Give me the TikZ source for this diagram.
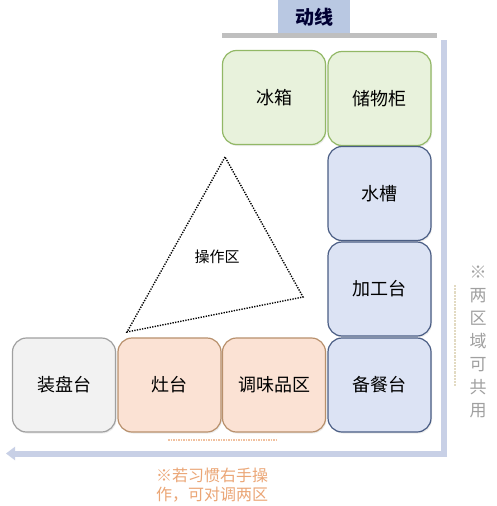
\documentclass[tikz,border=0pt]{standalone}
\usepackage{fontspec}
\newfontfamily\cjk{Noto Sans CJK SC}
\usetikzlibrary{arrows.meta,shadows}
\definecolor{grnfill}{HTML}{E8F2DC}
\definecolor{grnline}{HTML}{92B866}
\definecolor{blufill}{HTML}{DCE3F4}
\definecolor{bluline}{HTML}{4A5D84}
\definecolor{orgfill}{HTML}{FBE2D4}
\definecolor{orgline}{HTML}{B8906C}
\definecolor{gryfill}{HTML}{F2F2F2}
\definecolor{gryline}{HTML}{A0A0A0}
\definecolor{barcol}{HTML}{C8D0E6}
\definecolor{titlecol}{HTML}{B9C8E2}
\definecolor{notecol}{HTML}{EBA676}
\definecolor{sidecol}{HTML}{A0A0A0}
\definecolor{beige}{HTML}{E2DAC2}
\tikzset{
  x=1pt,y=-1pt,
  zone/.style={rounded corners=14pt, line width=1.2pt, minimum width=103pt, minimum height=94pt, font=\cjk\fontsize{18}{18}\selectfont, text=black, inner sep=0pt, drop shadow={shadow xshift=1pt,shadow yshift=-1.5pt,opacity=0.15}},
  grn/.style={zone, fill=grnfill, draw=grnline},
  blu/.style={zone, fill=blufill, draw=bluline},
  org/.style={zone, fill=orgfill, draw=orgline},
  gry/.style={zone, fill=gryfill, draw=gryline},
}
\begin{document}
\begin{tikzpicture}
\useasboundingbox (0,0) rectangle (496,506);
\clip (0,0) rectangle (496,506);
\fill[white] (0,0) rectangle (496,506);
% title
\node[fill=titlecol, minimum width=72pt, minimum height=34pt, inner sep=0pt, font=\cjk\bfseries\fontsize{19}{19}\selectfont, text={black!80!blue}] (title) at (314,17) {动线};
\fill[black!25] (222,33) rectangle (437,38);
% flow bars
\fill[barcol] (441,40) rectangle (447,457);
\coordinate (barR) at (447,453.5);
\coordinate (barL) at (6,453.5);
\draw[barcol, line width=6pt, -{Triangle[length=9pt,width=13pt]}] (barR) -- (barL);
% boxes
\node[grn] (fridge) at (274,97.5) {冰箱};
\node[grn] (cabinet) at (379.5,98.5) {储物柜};
\node[blu] (sink) at (379.5,193.5) {水槽};
\node[blu] (prep) at (379.5,289) {加工台};
\node[blu] (serve) at (379.5,385) {备餐台};
\node[gry] (plate) at (64,385) {装盘台};
\node[org] (stove) at (169.5,385) {灶台};
\node[org] (season) at (274,385) {调味品区};
% triangle
\coordinate (tA) at (225,157);
\coordinate (tB) at (127,332);
\coordinate (tC) at (303,297);
\draw[dash pattern=on 1.3pt off 1.3pt, line width=1.4pt] (tA) -- (tB) -- (tC) -- cycle;
\node[font=\cjk\fontsize{15}{15}\selectfont] (op) at (217,257) {操作区};
% dotted hints
\coordinate (dh1) at (168,440);
\coordinate (dh2) at (278,440);
\draw[notecol!70, densely dotted, line width=1.5pt] (dh1) -- (dh2);
\coordinate (dv1) at (455,285);
\coordinate (dv2) at (455,387);
\draw[beige, densely dotted, line width=2.2pt] (dv1) -- (dv2);
% side note
\node[text=sidecol, font=\cjk\fontsize{17}{23}\selectfont, align=center, inner sep=0pt] (side) at (478,342) {※\\两\\区\\域\\可\\共\\用};
% bottom note
\node[text=notecol, font=\cjk\fontsize{16}{19}\selectfont, align=left, anchor=north west, inner sep=0pt] (bottom) at (156,468) {※若习惯右手操\\作，可对调两区};
\end{tikzpicture}
\end{document}
